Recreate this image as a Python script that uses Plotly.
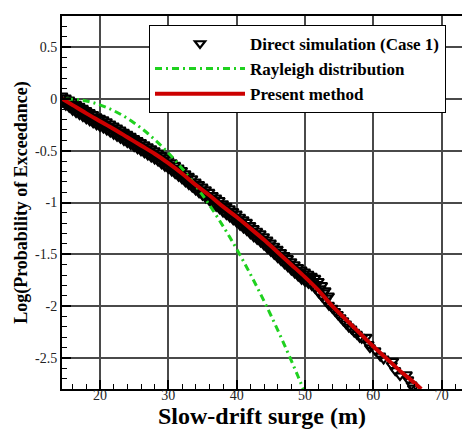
import plotly.graph_objects as go

# ---------------- data ----------------
# Direct simulation (Case 1): dense band (upper / lower edge of the scatter)
sim_band_x = [14.5, 15.0, 15.5, 16.0, 16.5, 17.0, 17.5, 18.0, 18.5, 19.0, 19.5,
              20.0, 20.5, 21.0, 21.5, 22.0, 22.5, 23.0, 23.5, 24.0, 24.5,
              25.0, 25.5, 26.0, 26.5, 27.0, 27.5, 28.0, 28.5, 29.0, 29.5,
              30.0, 30.5, 31.0, 31.5, 32.0, 32.5, 33.0, 33.5, 34.0, 34.5,
              35.0, 35.5, 36.0, 36.5, 37.0, 37.5, 38.0, 38.5, 39.0, 39.5,
              40.0, 40.5, 41.0, 41.5, 42.0, 42.5, 43.0, 43.5, 44.0, 44.5,
              45.0, 45.5, 46.0, 46.5, 47.0, 47.5, 48.0, 48.5, 49.0, 49.5,
              50.0, 50.5, 51.0, 51.5, 52.0, 52.5, 53.0, 53.5]
sim_band_upper = [0.03, 0.01, -0.01, -0.03, -0.05, -0.07, -0.09, -0.11, -0.13, -0.15, -0.17,
                  -0.185, -0.20, -0.22, -0.24, -0.26, -0.28, -0.30, -0.32, -0.34, -0.36,
                  -0.38, -0.40, -0.42, -0.44, -0.46, -0.48, -0.50, -0.52, -0.545, -0.57,
                  -0.59, -0.615, -0.64, -0.665, -0.69, -0.72, -0.745, -0.77, -0.80, -0.825,
                  -0.85, -0.875, -0.90, -0.93, -0.955, -0.98, -1.01, -1.035, -1.06, -1.085,
                  -1.11, -1.14, -1.165, -1.19, -1.22, -1.25, -1.275, -1.30, -1.33, -1.36,
                  -1.39, -1.42, -1.45, -1.48, -1.51, -1.54, -1.57, -1.60, -1.625, -1.65,
                  -1.67, -1.69, -1.71, -1.73, -1.76, -1.80, -1.85, -1.90]
sim_band_lower = [-0.03, -0.06, -0.08, -0.11, -0.13, -0.15, -0.17, -0.19, -0.21, -0.23, -0.25,
                  -0.265, -0.28, -0.30, -0.32, -0.34, -0.36, -0.38, -0.40, -0.42, -0.44,
                  -0.46, -0.48, -0.50, -0.52, -0.54, -0.56, -0.58, -0.60, -0.625, -0.65,
                  -0.67, -0.695, -0.72, -0.745, -0.77, -0.80, -0.825, -0.85, -0.88, -0.905,
                  -0.93, -0.955, -0.98, -1.01, -1.035, -1.06, -1.09, -1.115, -1.14, -1.165,
                  -1.19, -1.22, -1.245, -1.27, -1.30, -1.33, -1.355, -1.38, -1.41, -1.44,
                  -1.47, -1.50, -1.53, -1.56, -1.59, -1.62, -1.65, -1.68, -1.71, -1.74,
                  -1.76, -1.78, -1.80, -1.83, -1.87, -1.91, -1.95, -1.99]
# Direct simulation: middle of the dense band
sim_mid_x = [14.75, 15.25, 15.75, 16.25, 16.75, 17.25, 17.75, 18.25, 18.75, 19.25, 19.75,
             20.25, 20.75, 21.25, 21.75, 22.25, 22.75, 23.25, 23.75, 24.25, 24.75,
             25.25, 25.75, 26.25, 26.75, 27.25, 27.75, 28.25, 28.75, 29.25, 29.75,
             30.25, 30.75, 31.25, 31.75, 32.25, 32.75, 33.25, 33.75, 34.25, 34.75,
             35.25, 35.75, 36.25, 36.75, 37.25, 37.75, 38.25, 38.75, 39.25, 39.75,
             40.25, 40.75, 41.25, 41.75, 42.25, 42.75, 43.25, 43.75, 44.25, 44.75,
             45.25, 45.75, 46.25, 46.75, 47.25, 47.75, 48.25, 48.75, 49.25, 49.75,
             50.25, 50.75, 51.25, 51.75, 52.25, 52.75, 53.25]
sim_mid_y = [-0.02, -0.04, -0.06, -0.08, -0.10, -0.12, -0.14, -0.16, -0.18, -0.20, -0.22,
             -0.23, -0.25, -0.27, -0.29, -0.31, -0.33, -0.35, -0.37, -0.39, -0.41,
             -0.43, -0.45, -0.47, -0.49, -0.51, -0.53, -0.55, -0.57, -0.60, -0.62,
             -0.64, -0.67, -0.69, -0.72, -0.745, -0.77, -0.80, -0.825, -0.85, -0.88,
             -0.90, -0.93, -0.955, -0.98, -1.01, -1.035, -1.06, -1.09, -1.11, -1.14,
             -1.165, -1.19, -1.22, -1.245, -1.275, -1.30, -1.33, -1.355, -1.385, -1.415,
             -1.445, -1.475, -1.505, -1.535, -1.565, -1.595, -1.625, -1.655, -1.685, -1.715,
             -1.72, -1.74, -1.76, -1.79, -1.83, -1.87, -1.92]
# Direct simulation: sparser tail
sim_tail_x = [54.0, 54.4, 54.8, 55.2, 55.6, 56.0, 56.4, 56.8, 57.2, 57.6, 58.0, 58.3,
              59.0, 59.3, 59.5, 60.3, 61.0, 61.5, 62.9, 62.7, 63.2, 63.9, 64.9, 65.1,
              65.6, 65.8]
sim_tail_y = [-2.02, -2.05, -2.08, -2.11, -2.14, -2.17, -2.20, -2.22, -2.25, -2.27, -2.30, -2.31,
              -2.30, -2.37, -2.40, -2.43, -2.48, -2.51, -2.53, -2.57, -2.62, -2.67, -2.66, -2.71,
              -2.76, -2.79]

# Rayleigh distribution
ray_x = [15, 17, 19, 21, 23, 25, 27, 29, 31, 33, 35, 37, 39, 41, 43, 45, 47, 49, 49.8]
ray_y = [0.0, -0.009, -0.037, -0.084, -0.148, -0.232, -0.334, -0.455, -0.594, -0.752,
         -0.928, -1.123, -1.336, -1.568, -1.819, -2.088, -2.376, -2.682, -2.81]

# Present method
pm_x = [14.5, 16, 18, 20, 22, 24, 26, 28, 30, 32, 34, 36, 38, 40, 42, 44, 46, 48, 50,
        52, 54, 56, 58, 60, 62, 64, 66, 67]
pm_y = [0.0, -0.06, -0.14, -0.215, -0.29, -0.37, -0.45, -0.53, -0.62, -0.72, -0.83, -0.93,
        -1.04, -1.14, -1.25, -1.36, -1.48, -1.60, -1.72, -1.85, -2.0, -2.13, -2.26, -2.39,
        -2.51, -2.63, -2.74, -2.80]

# Tick labels
x_tick_vals = [20, 30, 40, 50, 60, 70]
x_tick_text = ["20", "30", "40", "50", "60", "70"]
y_tick_vals = [0.5, 0, -0.5, -1, -1.5, -2, -2.5]
y_tick_text = ["0.5", "0", "-0.5", "-1", "-1.5", "-2", "-2.5"]

# ---------------- figure ----------------
sim_x = sim_band_x + sim_mid_x + sim_band_x + sim_tail_x
sim_y = sim_band_upper + sim_mid_y + sim_band_lower + sim_tail_y

SERIF = "Liberation Serif"

fig = go.Figure()
fig.add_trace(go.Scatter(
    x=sim_x, y=sim_y, mode="markers", name="Direct simulation (Case 1)",
    marker=dict(symbol="triangle-down-open", size=9, color="black",
                line=dict(width=2.2, color="black")),
))
fig.add_trace(go.Scatter(
    x=ray_x, y=ray_y, mode="lines", name="Rayleigh distribution",
    line=dict(color="#1fd11f", width=3, dash="7px,4px,2px,4px", shape="spline"),
))
fig.add_trace(go.Scatter(
    x=pm_x, y=pm_y, mode="lines", name="Present method",
    line=dict(color="#cc0000", width=4, shape="spline"),
))

axis_common = dict(
    showline=True, linecolor="black", linewidth=2,
    showgrid=True, gridcolor="#4a4a4a", gridwidth=1.5,
    ticks="inside", ticklen=9, tickwidth=2, tickcolor="black",
    tickfont=dict(family=SERIF, size=14, color="#222"),
    zeroline=False,
)

fig.update_xaxes(
    range=[14.44, 72.97], tickmode="array", tickvals=x_tick_vals, ticktext=x_tick_text,
    mirror=True, ticklabelstandoff=-8,
    minor=dict(ticks="inside", ticklen=5, tickwidth=1, tickcolor="black",
               dtick=2, tick0=0, showgrid=False),
    title=dict(text="Slow-drift surge (m)", standoff=2,
               font=dict(family=SERIF, size=24, color="black", weight="bold")),
    **axis_common,
)
fig.update_yaxes(
    range=[-2.8, 0.8], tickmode="array", tickvals=y_tick_vals, ticktext=y_tick_text,
    minor=dict(ticks="inside", ticklen=5, tickwidth=1, tickcolor="black",
               dtick=0.1, tick0=0, showgrid=False),
    title=dict(text="Log(Probability of Exceedance)", standoff=3,
               font=dict(family=SERIF, size=18, color="black", weight="bold")),
    **axis_common,
)

fig.update_layout(
    width=462, height=432,
    margin=dict(l=62, r=0, t=16, b=43),
    plot_bgcolor="white", paper_bgcolor="white",
    showlegend=True,
    legend=dict(
        x=0.2175, y=0.976, xanchor="left", yanchor="top",
        bgcolor="white", bordercolor="black", borderwidth=1,
        font=dict(family=SERIF, size=17, color="black", weight="bold"),
        itemwidth=90, tracegroupgap=0,
    ),
)

fig.write_html("out.html")
